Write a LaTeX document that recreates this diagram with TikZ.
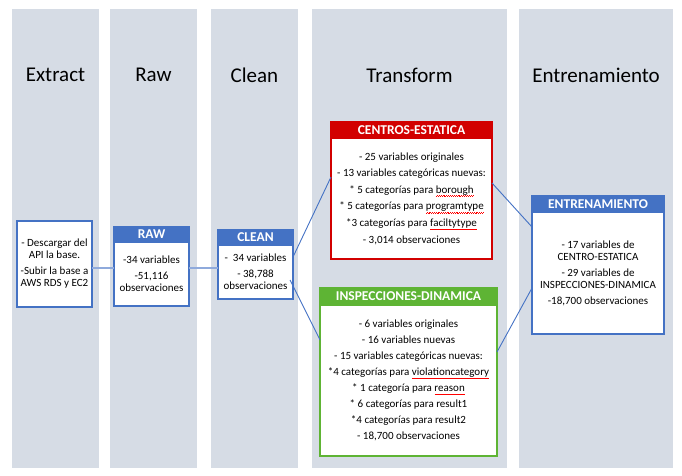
\documentclass[tikz,border=0pt]{standalone}
\usepackage{fontspec}
\setmainfont{Carlito}
\usepackage{tikz}
\usetikzlibrary{positioning}
\definecolor{colBack}{RGB}{214,220,229}
\definecolor{boxBlue}{RGB}{68,114,196}
\definecolor{linkBlue}{RGB}{143,170,220}
\definecolor{boxRed}{RGB}{210,0,0}
\definecolor{boxGreen}{RGB}{94,180,52}
% red wavy spell-check mark under a word
\newcommand{\spell}[1]{\setbox0\hbox{#1}\rlap{\color{red}\xleaders\hbox{\rule[-3.3pt]{0.9pt}{0.5pt}\rule[-2.6pt]{0.9pt}{0.5pt}}\hskip\wd0}\box0}

\begin{document}
\begin{tikzpicture}[x=1pt,y=-1pt]

            \tikzstyle{column} = [fill=colBack];
            \tikzstyle{stageTitle} = [font=\fontsize{21}{24}\selectfont];
            \tikzstyle{boxHead} = [draw, line width=2pt, anchor=north, inner sep=0pt, outer sep=0pt, text=white, font=\fontsize{13.5}{15}\selectfont\bfseries];
            \tikzstyle{boxBody} = [draw, line width=2pt, fill=white, inner sep=0pt, outer sep=0pt, align=center, font=\fontsize{11}{12}\selectfont];
            \tikzstyle{thickLink} = [linkBlue, line width=2pt];
            \tikzstyle{thinLink} = [boxBlue, line width=0.9pt];

            \useasboundingbox (0,0) rectangle (682,476);

            % stage columns
            \fill[column] (12,9) rectangle (99,468);
            \fill[column] (110,9) rectangle (197,468);
            \fill[column] (211,9) rectangle (298,468);
            \fill[column] (312,9) rectangle (507,468);
            \fill[column] (519,9) rectangle (673,468);

            \node[stageTitle] (tExtract)   at (55.5,75)  {Extract};
            \node[stageTitle] (tRaw)       at (153.5,75) {Raw};
            \node[stageTitle] (tClean)     at (254.5,75) {Clean};
            \node[stageTitle] (tTransform) at (409.5,75) {Transform};
            \node[stageTitle] (tEntrena)   at (596,75)   {Entrenamiento};

            % boxes
            \node[boxBody, draw=boxBlue, minimum width=75, minimum height=86] (extract) at (54.5,264)
              {- Descargar del\\API la base.\\[4pt]-Subir la base a\\AWS RDS y EC2};

            \node[boxHead, fill=boxBlue, draw=boxBlue, minimum width=75, minimum height=15] (rawHead) at (151.5,227) {RAW};
            \node[boxBody, draw=boxBlue, minimum width=75, minimum height=64, below=0pt of rawHead] (raw)
              {-34 variables\\[4pt]-51,116\\observaciones};

            \node[boxHead, fill=boxBlue, draw=boxBlue, minimum width=75, minimum height=15] (cleanHead) at (255.5,230) {CLEAN};
            \node[boxBody, draw=boxBlue, minimum width=75, minimum height=54, below=0pt of cleanHead] (clean)
              {-\ \ 34 variables\\[4pt]- 38,788\\observaciones};

            \node[boxHead, fill=boxRed, draw=boxRed, minimum width=161, minimum height=16] (centrosHead) at (411.5,122) {CENTROS-ESTATICA};
            \node[boxBody, draw=boxRed, minimum width=161, minimum height=121, below=0pt of centrosHead] (centros)
              {- 25 variables originales\\[4.6pt]- 13 variables categóricas nuevas:\\[4.6pt]* 5 categorías para \spell{borough}\\[4.6pt]* 5 categorías para \spell{programtype}\\[4.6pt]*3 categorías para \spell{faciltytype}\\[4.6pt]- 3,014 observaciones};

            \node[boxHead, fill=boxGreen, draw=boxGreen, minimum width=177, minimum height=17] (inspHead) at (408.5,288) {INSPECCIONES-DINAMICA};
            \node[boxBody, draw=boxGreen, minimum width=177, minimum height=151, below=0pt of inspHead] (insp)
              {- 6 variables originales\\[4pt]- 16 variables nuevas\\[4pt]- 15 variables categóricas nuevas:\\[4pt]*4 categorías para \spell{violationcategory}\\[4pt]* 1 categoría para \spell{reason}\\[4pt]* 6 categorías para result1\\[4pt]*4 categorías para result2\\[4pt]- 18,700 observaciones};

            \node[boxHead, fill=boxBlue, draw=boxBlue, minimum width=132, minimum height=16] (entrHead) at (598,196) {ENTRENAMIENTO};
            \node[boxBody, draw=boxBlue, minimum width=132, minimum height=122, below=0pt of entrHead] (entr)
              {- 17 variables de\\CENTRO-ESTATICA\\[4pt]- 29 variables de\\INSPECCIONES-DINAMICA\\[4pt]-18,700 observaciones};

            % links
            \draw[thickLink] ([yshift=-4pt]extract.east) -- ([yshift=6pt]raw.west);
            \draw[thickLink] ([yshift=6pt]raw.east) -- ([yshift=4pt]clean.west);

            \draw[thinLink] ([yshift=15pt]clean.east) -- ([yshift=21.5pt]centros.west);
            \draw[thinLink] ([xshift=-3pt,yshift=-8pt]clean.east) -- ([yshift=40.5pt]insp.west);
            \draw[thinLink] ([yshift=15.5pt]centros.east) -- ([yshift=46pt]entr.west);
            \draw[thinLink] ([yshift=28.5pt]insp.east) -- ([yshift=-15pt]entr.west);
          \end{tikzpicture}
\end{document}
